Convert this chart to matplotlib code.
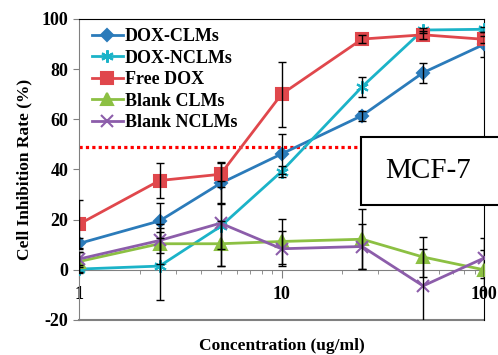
import matplotlib.pyplot as plt
import matplotlib.patches as mpatches

conc = [1, 2.5, 5, 10, 25, 50, 100]

dox_clms = [10.5, 19.5, 34.5, 46.2, 61.5, 78.6, 89.9]
dox_clms_err = [2, 7, 8, 8, 2, 4, 5]
dox_nclms = [0.3, 1.5, 17.3, 39.2, 73.0, 95.6, 95.9]
dox_nclms_err = [1.5, 13.7, 9, 2, 4, 1, 1]
free_dox = [18.2, 35.6, 38.1, 70.0, 92.0, 93.7, 91.9]
free_dox_err = [9.5, 7, 5, 13, 1.5, 1.5, 1.5]
blank_clms = [3.3, 10.4, 10.4, 11.3, 12.2, 5.1, 0]
blank_clms_err = [4, 8, 9, 9, 12, 8, 8]
blank_nclms = [4.3, 11.7, 18.6, 8.4, 9.3, -6.4, 4.7]
blank_nclms_err = [3, 5, 17, 7, 9, 14.7, 8]

ic50 = 49

serif = 'Liberation Serif'
plt.rcParams['font.family'] = serif
plt.rcParams['axes.unicode_minus'] = False

fig = plt.figure(figsize=(4.98, 3.55), dpi=100)
ax = fig.add_axes([0.1586, 0.0986, 0.8134, 0.8479])

series = [
    ('DOX-CLMs', dox_clms, dox_clms_err, '#2B7BBA', 'D', 6),
    ('DOX-NCLMs', dox_nclms, dox_nclms_err, '#1BB3C8', (6, 2, 0), 9),
    ('Free DOX', free_dox, free_dox_err, '#E0474C', 's', 8),
    ('Blank CLMs', blank_clms, blank_clms_err, '#8CC043', '^', 8),
    ('Blank NCLMs', blank_nclms, blank_nclms_err, '#8C5DAA', 'x', 8),
]

ax.plot([1, 25], [ic50, ic50], color='#FF0000', linestyle=(0, (1, 1)), linewidth=2.3, zorder=2)

for name, vals, err, col, mk, ms in series:
    ax.plot(conc, vals, color=col, marker=mk, markersize=ms, linewidth=2,
            markeredgecolor=col, markeredgewidth=1.5, label=name, zorder=3)
    ax.errorbar(conc, vals, yerr=err, fmt='none', ecolor='black', elinewidth=1,
                capsize=3, capthick=1, zorder=4)

ax.set_xscale('log')
ax.set_xlim(1, 100)
ax.set_ylim(-20, 100)
ax.set_yticks([-20, 0, 20, 40, 60, 80, 100])

ax.spines['bottom'].set_position(('data', 0))
ax.spines['bottom'].set_color('#808080')
ax.spines['left'].set_color('#808080')
ax.spines['top'].set_color('black')
ax.spines['right'].set_color('black')
ax.axhline(-20, color='#808080', linewidth=1.5, clip_on=False, zorder=1)

ax.tick_params(axis='x', which='major', direction='out', length=6, color='#808080', pad=6)
ax.tick_params(axis='x', which='minor', direction='out', length=3, color='#808080')
ax.tick_params(axis='y', direction='out', length=4, color='#808080')
ax.set_xticks([1, 10, 100])
ax.set_xticklabels(['1', '10', '100'])
for lab in ax.get_xticklabels() + ax.get_yticklabels():
    lab.set_fontweight('bold')
    lab.set_fontsize(13)

ax.set_xlabel('Concentration (ug/ml)', fontsize=12.5, fontweight='bold')
ax.xaxis.set_label_coords(0.5, -0.06)
ax.set_ylabel('Cell Inhibition Rate (%)', fontsize=12.5, fontweight='bold')
ax.yaxis.set_label_coords(-0.116, 0.5)

ax.legend(loc='upper left', frameon=False, prop={'weight': 'bold', 'size': 13},
          handlelength=1.7, handletextpad=0.1, labelspacing=0.25,
          borderaxespad=0.1, bbox_to_anchor=(0.01, 1.0))

fig.patches.append(mpatches.Rectangle((361 / 498, 1 - 205 / 355), 0.3, 68 / 355,
                                      transform=fig.transFigure, facecolor='white',
                                      edgecolor='black', linewidth=1.5, zorder=5))
fig.text(428 / 498, 1 - 171 / 355, 'MCF-7', fontsize=21, ha='center', va='center',
         zorder=6)

fig.savefig('out.png', dpi=100)
